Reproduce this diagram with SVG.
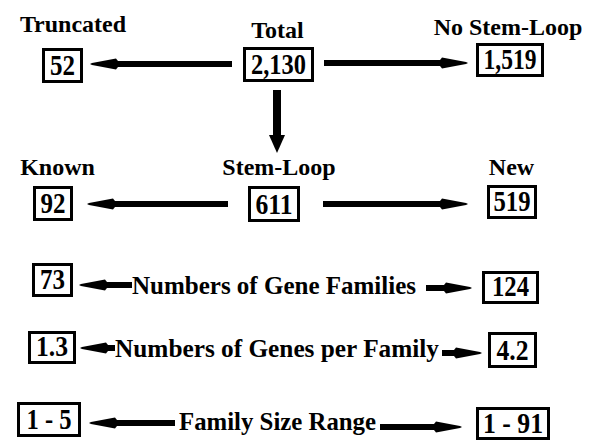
<svg xmlns="http://www.w3.org/2000/svg" width="594" height="440" viewBox="0 0 594 440">
<style>
text{font-family:"Liberation Serif","Times New Roman",serif;font-weight:bold;fill:#000}
.lbl{font-size:24px;text-anchor:middle}
.row{font-size:26px}
.num{font-size:29px;text-anchor:middle}
.box{fill:#fff;stroke:#000;stroke-width:3}
.arr{stroke:#000;stroke-width:6;fill:none;marker-end:url(#ah)}
.varr{stroke:#000;stroke-width:8;fill:none;marker-end:url(#av)}
</style>
<defs>
<marker id="ah" markerUnits="userSpaceOnUse" viewBox="0 0 34 12" refX="8" refY="6" markerWidth="34" markerHeight="12" orient="auto" overflow="visible">
<path d="M34,6 L32,5 L8,0.5 L6,3 L6,9 L8,11.5 L32,7 Z" fill="#000"/>
</marker>
<marker id="av" markerUnits="userSpaceOnUse" viewBox="0 0 20 16" refX="2" refY="8" markerWidth="20" markerHeight="16" orient="auto" overflow="visible">
<path d="M20,8 L2,0 L2,16 Z" fill="#000"/>
</marker>
</defs>
<rect width="594" height="440" fill="#fff"/>
<g id="connectors">
<line class="arr" x1="232" y1="64" x2="116" y2="64"/>
<line class="arr" x1="324" y1="63" x2="442" y2="63"/>
<line class="varr" x1="277" y1="90" x2="277" y2="135"/>
<line class="arr" x1="228" y1="204" x2="113" y2="204"/>
<line class="arr" x1="323" y1="204" x2="442" y2="204"/>
<line class="arr" x1="132" y1="285" x2="105" y2="285"/>
<line class="arr" x1="426" y1="288" x2="446" y2="288"/>
<line class="arr" x1="115" y1="348" x2="106" y2="348"/>
<line class="arr" x1="442" y1="353" x2="456" y2="353"/>
<line class="arr" x1="175" y1="423" x2="115" y2="423"/>
<line class="arr" x1="380" y1="427" x2="436" y2="427"/>
</g>
<g id="total">
<text class="lbl" x="277.5" y="38">Total</text>
<rect class="box" x="244.5" y="48.5" width="68" height="32"/>
<text class="num" x="278.5" y="74" textLength="55" lengthAdjust="spacingAndGlyphs">2,130</text>
</g>
<g id="truncated">
<text class="lbl" x="73" y="32">Truncated</text>
<rect class="box" x="43.5" y="49.5" width="38" height="32"/>
<text class="num" x="62.5" y="75" textLength="25" lengthAdjust="spacingAndGlyphs">52</text>
</g>
<g id="nostemloop">
<text class="lbl" x="508" y="35">No Stem-Loop</text>
<rect class="box" x="477.5" y="44.5" width="65" height="31"/>
<text class="num" x="510" y="69" textLength="53" lengthAdjust="spacingAndGlyphs">1,519</text>
</g>
<g id="stemloop">
<text class="lbl" x="279" y="175">Stem-Loop</text>
<rect class="box" x="249.5" y="187.5" width="49" height="33"/>
<text class="num" x="274" y="214" textLength="37" lengthAdjust="spacingAndGlyphs">611</text>
</g>
<g id="known">
<text class="lbl" x="57.5" y="175">Known</text>
<rect class="box" x="34.5" y="187.5" width="37" height="32"/>
<text class="num" x="53" y="213" textLength="25" lengthAdjust="spacingAndGlyphs">92</text>
</g>
<g id="new">
<text class="lbl" x="511.5" y="175">New</text>
<rect class="box" x="488.5" y="186.5" width="47" height="31"/>
<text class="num" x="512" y="211" textLength="37" lengthAdjust="spacingAndGlyphs">519</text>
</g>
<g id="families">
<text class="row" x="132" y="294" textLength="284" lengthAdjust="spacingAndGlyphs">Numbers of Gene Families</text>
<rect class="box" x="33.5" y="264.5" width="38" height="31"/>
<text class="num" x="52.5" y="289" textLength="25" lengthAdjust="spacingAndGlyphs">73</text>
<rect class="box" x="483.5" y="272.5" width="54" height="30"/>
<text class="num" x="510.5" y="296" textLength="37" lengthAdjust="spacingAndGlyphs">124</text>
</g>
<g id="genesperfamily">
<text class="row" x="115" y="357" textLength="324" lengthAdjust="spacingAndGlyphs">Numbers of Genes per Family</text>
<rect class="box" x="29.5" y="332.5" width="45" height="30"/>
<text class="num" x="52" y="356" textLength="32" lengthAdjust="spacingAndGlyphs">1.3</text>
<rect class="box" x="489.5" y="333.5" width="46" height="33"/>
<text class="num" x="512.5" y="360" textLength="32" lengthAdjust="spacingAndGlyphs">4.2</text>
</g>
<g id="sizerange">
<text class="row" x="179" y="430" textLength="197" lengthAdjust="spacingAndGlyphs">Family Size Range</text>
<rect class="box" x="18.5" y="403.5" width="61" height="32"/>
<text class="num" x="49" y="429" textLength="45" lengthAdjust="spacingAndGlyphs">1 - 5</text>
<rect class="box" x="477.5" y="408.5" width="71" height="30"/>
<text class="num" x="513" y="433" textLength="60" lengthAdjust="spacingAndGlyphs">1 - 91</text>
</g>
</svg>
